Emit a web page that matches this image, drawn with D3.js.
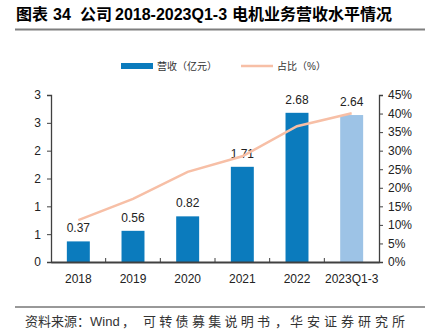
<html lang="zh">
<head>
  <meta charset="utf-8">
  <title>电机业务营收</title>
  <script src="https://d3js.org/d3.v7.min.js"></script>
  <style>
    body { margin: 0; background: #fff; }
    text { font-family: "Liberation Sans", Arial, "Noto Sans CJK SC", sans-serif; }
  </style>
</head>
<body>
<svg id="chart" width="425" height="330"></svg>
<script>

// ---------------------------------------------------------------- //
// Data

var years = ['2018', '2019', '2020', '2021', '2022', '2023Q1-3'];
var revenue = [0.37, 0.56, 0.82, 1.71, 2.68, 2.64];          // 营收（亿元）
var share = [0.113, 0.17, 0.243, 0.285, 0.366, 0.401];        // 占比（%）
var leftTicks = [0, 0.5, 1, 1.5, 2, 2.5, 3];
var rightTicks = [0, 0.05, 0.1, 0.15, 0.2, 0.25, 0.3, 0.35, 0.4, 0.45];

// ---------------------------------------------------------------- //
// Layout

var svg = d3.select('#chart');
var plotLeft = 51, plotRight = 379, plotTop = 95, plotBottom = 262;
var cjk = '"Liberation Sans", "Noto Sans CJK SC", sans-serif';
var latin = '"Liberation Sans", Arial, sans-serif';

var x = d3.scaleBand().domain(years).range([plotLeft, plotRight]).paddingInner(0.58).paddingOuter(0.29);
var band = d3.scaleBand().domain(years).range([plotLeft, plotRight]);
var yL = d3.scaleLinear().domain([0, 3]).range([plotBottom, plotTop]);
var yR = d3.scaleLinear().domain([0, 0.45]).range([plotBottom, plotTop]);

// title (pieces placed one by one to follow the original spacing)
var title = svg.append('text').attr('y', 20)
  .style('font-family', cjk).style('font-size', '16px').style('font-weight', 'bold');
[['图表', 16], ['34', 53], ['公司', 80], ['2018-2023Q1-3', 115], ['电机业务营收水平情况', 232]].forEach(p => {
  title.append('tspan').attr('x', p[1]).text(p[0]);
});
svg.append('line').attr('x1', 15).attr('x2', 425).attr('y1', 29.5).attr('y2', 29.5)
  .attr('stroke', '#7f7f7f').attr('stroke-width', 2);

// legend
svg.append('rect').attr('x', 121).attr('y', 63).attr('width', 32).attr('height', 6).attr('fill', '#0b7bbd');
svg.append('text').attr('x', 157).attr('y', 70).style('font-family', cjk).style('font-size', '10px')
  .attr('fill', '#333').text('营收（亿元）');
svg.append('line').attr('x1', 241).attr('x2', 273).attr('y1', 66).attr('y2', 66)
  .attr('stroke', '#f7bfa6').attr('stroke-width', 2.5);
svg.append('text').attr('x', 277).attr('y', 70).style('font-family', cjk).style('font-size', '10px')
  .attr('fill', '#333').text('占比（%）');

// bars
svg.selectAll('.bar').data(revenue).enter().append('rect')
  .attr('x', (d, i) => x(years[i]))
  .attr('width', x.bandwidth())
  .attr('y', d => yL(d))
  .attr('height', d => plotBottom - yL(d))
  .attr('fill', (d, i) => i == years.length - 1 ? '#9dc3e6' : '#0b7bbd');

svg.selectAll('.lbl').data(revenue).enter().append('text')
  .attr('x', (d, i) => x(years[i]) + x.bandwidth() / 2)
  .attr('y', d => yL(d) - 9)
  .attr('text-anchor', 'middle').style('font-size', '12px').style('font-family', latin).attr('fill', '#222')
  .text(d => d.toFixed(2));

// line
var lineGen = d3.line().x((d, i) => band(years[i]) + band.bandwidth() / 2).y(d => yR(d));
svg.append('path').datum(share).attr('d', lineGen)
  .attr('fill', 'none').attr('stroke', '#f7bfa6').attr('stroke-width', 2.5);

// axes
var axL = svg.append('g').attr('transform', 'translate(' + plotLeft + ',0)')
  .call(d3.axisLeft(yL).tickValues(leftTicks).tickSize(4).tickPadding(6).tickFormat(d3.format('.0f')));
var axR = svg.append('g').attr('transform', 'translate(' + plotRight + ',0)')
  .call(d3.axisRight(yR).tickValues(rightTicks).tickSize(4).tickPadding(5).tickFormat(d3.format('.0%')));
var axB = svg.append('g').attr('transform', 'translate(0,' + plotBottom + ')')
  .call(d3.axisBottom(x).tickSize(0).tickPadding(12));

[axL, axR, axB].forEach(g => {
  g.select('.domain').attr('stroke', '#404040').attr('stroke-width', 1.3);
  g.selectAll('.tick line').attr('stroke', '#404040');
  g.selectAll('text').style('font-size', '12px').style('font-family', latin).attr('fill', '#222');
});
axB.select('.domain').attr('stroke-width', 2);

// category separators on the bottom axis
svg.selectAll('.sep').data(years.slice(1)).enter().append('line')
  .attr('x1', d => band(d)).attr('x2', d => band(d))
  .attr('y1', plotBottom - 4).attr('y2', plotBottom)
  .attr('stroke', '#404040');

// footer
svg.append('line').attr('x1', 15).attr('x2', 425).attr('y1', 307).attr('y2', 307)
  .attr('stroke', '#333').attr('stroke-width', 1);
var source = svg.append('text').attr('y', 326)
  .style('font-family', cjk).style('font-size', '13px').attr('fill', '#333');
[['资料来源：', 25, 0], ['Wind', 90, 0], ['，', 122, 0], ['可转债募集说明书', 143, 3.3], ['，', 275, 0], ['华安证券研究所', 290, 4]].forEach(p => {
  source.append('tspan').attr('x', p[1]).style('letter-spacing', p[2] + 'px').text(p[0]);
});

</script>
</body>
</html>
